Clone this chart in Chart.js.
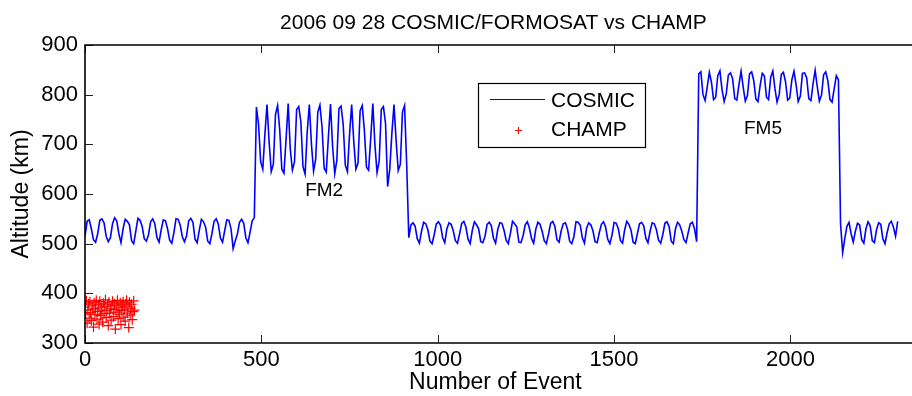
<!DOCTYPE html>
<html>
<head>
<meta charset="utf-8">
<script src="https://cdn.jsdelivr.net/npm/chart.js@4.4.0/dist/chart.umd.min.js"></script>
<style>
  html, body { margin: 0; padding: 0; background: #fff; }
  #wrap { width: 912px; height: 396px; }
</style>
</head>
<body>
<div id="wrap"><canvas id="myChart" width="912" height="396"></canvas></div>
<script>
// 데이터
var chartTitle = '2006 09 28 COSMIC/FORMOSAT vs CHAMP';
var xTicks = [0, 500, 1000, 1500, 2000];
var yTicks = [300, 400, 500, 600, 700, 800, 900];

// COSMIC altitude, one sample every 6 events
var cosmicStep = 6;
var cosmicLow1 = [
    515, 545, 548, 530, 508, 503,
    520, 547, 550, 542, 515, 504,
    512, 540, 552, 546, 520, 502,
    530, 549, 545, 538, 506, 500,
    525, 551, 547, 535, 510, 505,
    518, 544, 550, 540, 512, 503,
    528, 548, 546, 530, 507, 501,
    522, 550, 549, 537, 514, 504,
    516, 546, 551, 543, 509, 502,
    527, 549, 544, 533, 505, 500,
    521, 545, 550, 539, 511, 503,
    526, 548, 547, 530, 490, 506,
    519, 543, 549, 541, 512, 502,
    523, 546, 552
];
var cosmicFM2 = [
    775, 740, 665, 650, 720,
    780, 705, 645, 660, 760,
    778, 730, 650, 642, 710,
    782, 690, 648, 665, 770,
    776, 745, 655, 640, 725,
    780, 700, 646, 670, 765,
    779, 735, 652, 644, 715,
    781, 695, 641, 668, 772,
    777, 740, 658, 645, 720,
    780, 705, 650, 662, 768,
    778, 728, 654, 648, 712,
    782, 698, 643, 666, 770,
    776, 742, 615, 650, 722,
    780, 708, 647, 660, 765,
    778, 660
];
var cosmicLow2 = [
    512, 538, 542, 535, 510, 501,
    525, 543, 540, 528, 505, 500,
    518, 540, 544, 537, 512, 502,
    530, 542, 539, 526, 506, 501,
    520, 541, 545, 533, 509, 500,
    527, 544, 538, 530, 504, 502,
    515, 539, 543, 536, 511, 501,
    528, 542, 541, 527, 507, 500,
    521, 545, 540, 534, 503, 502,
    516, 538, 544, 531, 510, 501,
    529, 543, 539, 525, 506, 500,
    519, 541, 545, 535, 508, 503,
    526, 540, 542, 529, 505, 500,
    514, 544, 543, 537, 512, 501,
    531, 542, 538, 526, 504, 502,
    522, 539, 544, 533, 509, 500,
    517, 543, 541, 530, 506, 501,
    528, 545, 539, 527, 503, 500,
    520, 540, 543, 536, 511, 502,
    525, 542, 540, 528, 507, 501,
    518, 541, 544, 534, 505, 500,
    530, 543, 538, 525, 508, 502,
    522, 540, 543, 530, 504
];
var cosmicFM5 = [
    842, 846, 800, 788, 815,
    845, 825, 790, 795, 838,
    848, 810, 786, 802, 840,
    844, 832, 792, 789, 820,
    847, 815, 787, 798, 842,
    846, 828, 791, 786, 818,
    843, 838, 795, 790, 835,
    848, 812, 785, 800, 841,
    845, 826, 789, 793, 830,
    847, 820, 786, 797, 843,
    844, 834, 792, 788, 822,
    849, 816, 787, 799, 840,
    846, 828, 790, 785, 812,
    838, 830
];
var cosmicLow3 = [
    540, 482, 510, 535, 543, 520, 503,
    525, 541, 538, 508, 501, 530, 544,
    536, 506, 502, 528, 542, 539, 510,
    500, 522, 540, 545, 533, 515, 545
];

// CHAMP altitude, one sample every 2 events
var champStep = 2;
var champAlt = [
    372, 358, 385, 340, 366, 379, 350, 383, 361, 345,
    376, 368, 332, 381, 357, 370, 386, 348, 363, 377,
    338, 384, 355, 372, 366, 342, 380, 359, 374, 387,
    351, 365, 378, 335, 382, 360, 369, 346, 376, 384,
    353, 367, 379, 328, 362, 375, 386, 349, 371, 358,
    381, 337, 365, 377, 383, 352, 368, 344, 379, 386,
    360, 373, 331, 382, 356, 370, 378, 347, 363, 385,
    366
];

var cosmicAlt = cosmicLow1.concat(cosmicFM2, cosmicLow2, cosmicFM5, cosmicLow3);
var cosmicPts = cosmicAlt.map(function (v, i) { return { x: i * cosmicStep, y: v }; });
var champPts = champAlt.map(function (v, i) { return { x: i * champStep, y: v }; });

var fontFamily = '"Liberation Sans", Arial, sans-serif';
Chart.defaults.font.family = fontFamily;
Chart.defaults.color = '#000';

// matlab 스타일 박스, 눈금, 제목, 범례
var matlabFrame = {
    id: 'matlabFrame',
    afterDraw: function (chart) {
        var ctx = chart.ctx;
        var a = chart.chartArea;
        var xs = chart.scales.x, ys = chart.scales.y;
        var tl = 8;
        ctx.save();

        // inward tick marks
        ctx.strokeStyle = '#222';
        ctx.lineWidth = 1;
        ctx.beginPath();
        xs.ticks.forEach(function (t) {
            var px = Math.round(xs.getPixelForValue(t.value)) + 0.5;
            ctx.moveTo(px, a.bottom); ctx.lineTo(px, a.bottom - tl);
            ctx.moveTo(px, a.top); ctx.lineTo(px, a.top + tl);
        });
        ys.ticks.forEach(function (t) {
            var py = Math.round(ys.getPixelForValue(t.value)) + 0.5;
            ctx.moveTo(a.left, py); ctx.lineTo(a.left + tl, py);
        });
        ctx.stroke();

        // box (right side falls off the picture)
        ctx.strokeStyle = '#000';
        ctx.lineWidth = 1.6;
        ctx.beginPath();
        ctx.moveTo(chart.width, a.top); ctx.lineTo(a.left, a.top);
        ctx.lineTo(a.left, a.bottom); ctx.lineTo(chart.width, a.bottom);
        ctx.stroke();

        // title
        ctx.fillStyle = '#000';
        ctx.textAlign = 'center';
        ctx.textBaseline = 'middle';
        ctx.font = '21px ' + fontFamily;
        ctx.fillText(chartTitle, (a.left + a.right) / 2 - 2, 23);

        // FM2 / FM5
        ctx.font = '19px ' + fontFamily;
        ctx.fillText('FM2', xs.getPixelForValue(678), ys.getPixelForValue(607));
        ctx.fillText('FM5', xs.getPixelForValue(1922), ys.getPixelForValue(732));

        // legend
        var lx = a.left + 393, ly = a.top + 38, lw = 167, lh = 64;
        ctx.fillStyle = '#fff';
        ctx.fillRect(lx, ly, lw, lh);
        ctx.strokeStyle = '#000';
        ctx.lineWidth = 1.2;
        ctx.strokeRect(lx + 0.5, ly + 0.5, lw, lh);
        ctx.strokeStyle = '#0000ff';
        ctx.lineWidth = 1.2;
        ctx.beginPath();
        ctx.moveTo(lx + 12, ly + 16.5); ctx.lineTo(lx + 67, ly + 16.5);
        ctx.stroke();
        ctx.strokeStyle = '#ff0000';
        ctx.lineWidth = 1;
        ctx.beginPath();
        ctx.moveTo(lx + 37, ly + 47.5); ctx.lineTo(lx + 44, ly + 47.5);
        ctx.moveTo(lx + 40.5, ly + 44); ctx.lineTo(lx + 40.5, ly + 51);
        ctx.stroke();
        ctx.fillStyle = '#000';
        ctx.textAlign = 'left';
        ctx.font = '21px ' + fontFamily;
        ctx.fillText('COSMIC', lx + 73, ly + 18);
        ctx.fillText('CHAMP', lx + 73, ly + 47);

        ctx.restore();
    }
};

var ctx = document.getElementById('myChart').getContext('2d');

var myChart = new Chart(ctx, {
    type: 'line',
    data: {
        datasets: [{
            label: 'COSMIC',
            data: cosmicPts,
            borderColor: '#0000ff',
            borderWidth: 1.6,
            pointRadius: 0,
            tension: 0,
            fill: false
        }, {
            label: 'CHAMP',
            data: champPts,
            showLine: false,
            pointStyle: 'cross',
            pointRadius: 5,
            borderColor: '#ff0000',
            backgroundColor: '#ff0000',
            pointBorderWidth: 1.2
        }]
    },
    options: {
        responsive: false,
        animation: false,
        devicePixelRatio: 1,
        layout: { padding: { top: 45, right: 0, left: 0, bottom: 0 } },
        plugins: {
            legend: { display: false },
            title: { display: false },
            tooltip: { enabled: false }
        },
        scales: {
            x: {
                type: 'linear',
                min: 0,
                max: 2327,
                afterBuildTicks: function (s) { s.ticks = xTicks.map(function (v) { return { value: v }; }); },
                afterFit: function (s) { s.height = 53; },
                grid: { display: false, drawTicks: false },
                border: { display: false },
                ticks: {
                    padding: 4, maxRotation: 0, font: { size: 22 }, color: '#000',
                    callback: function (v) { return String(v); }
                },
                title: { display: true, text: 'Number of Event', font: { size: 23 }, color: '#000', padding: { top: 0, bottom: 0 } }
            },
            y: {
                min: 300,
                max: 900,
                afterBuildTicks: function (s) { s.ticks = yTicks.map(function (v) { return { value: v }; }); },
                afterFit: function (s) { s.width = 85; },
                grid: { display: false, drawTicks: false },
                border: { display: false },
                ticks: {
                    padding: 7, font: { size: 22 }, color: '#000',
                    callback: function (v) { return String(v); }
                },
                title: { display: true, text: 'Altitude (km)', font: { size: 23 }, color: '#000', padding: { top: 8, bottom: 0 } }
            }
        }
    },
    plugins: [matlabFrame]
});
</script>
</body>
</html>
